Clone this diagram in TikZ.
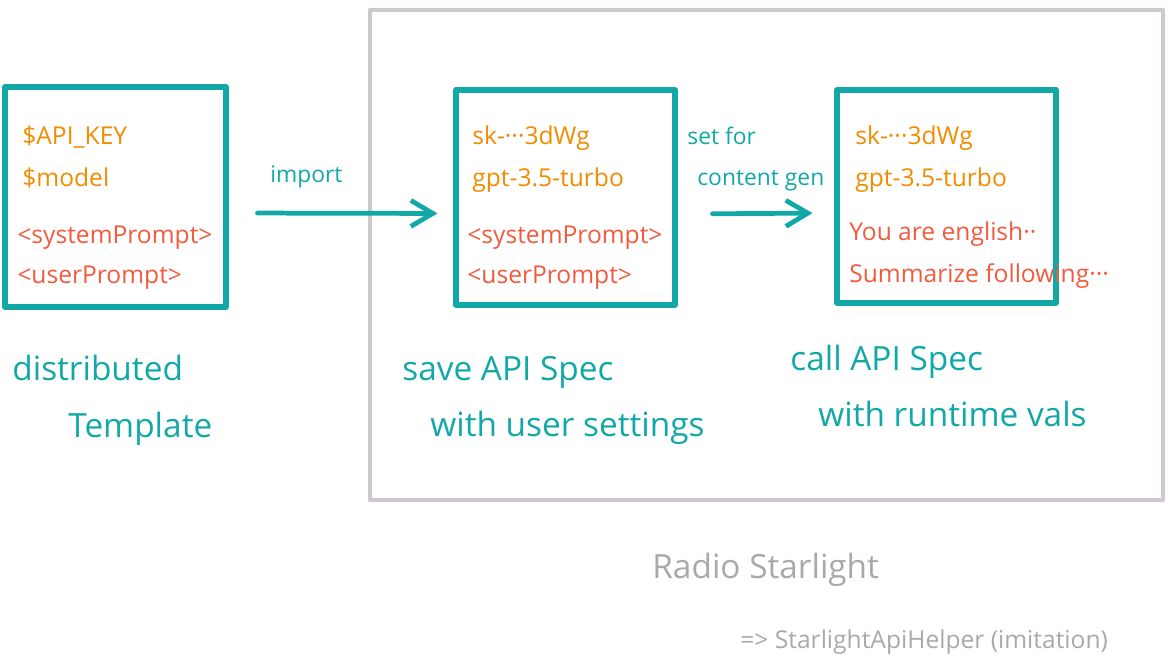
\documentclass[tikz,border=0pt]{standalone}
\usepackage{fontspec}
\setmainfont{Open Sans}
\usepackage{xcolor}
\usetikzlibrary{positioning,arrows.meta}

\definecolor{specteal}{HTML}{12A8A8}
\definecolor{valorange}{HTML}{F08C00}
\definecolor{promptred}{HTML}{F25A3E}
\definecolor{framegray}{HTML}{CEC8CF}
\definecolor{notegray}{HTML}{A9A9AB}

\begin{document}
\begin{tikzpicture}[x=0.02cm,y=-0.02cm,line cap=round,line join=round,
                    spec box/.style={draw=specteal,line width=2.9pt,inner sep=0pt},
                    val/.style={anchor=base west,inner sep=0pt,text=valorange,font=\fontsize{14}{16}\selectfont},
                    prompt/.style={anchor=base west,inner sep=0pt,text=promptred,font=\fontsize{14}{16}\selectfont},
                    caption/.style={anchor=base west,inner sep=0pt,text=specteal,font=\fontsize{19}{22}\selectfont},
                    small label/.style={anchor=base west,inner sep=0pt,text=specteal,font=\fontsize{13}{15}\selectfont},
                    flow/.style={draw=specteal,line width=2.7pt,-{Straight Barb[length=0.44cm,width=0.52cm]}}]

  \useasboundingbox (0,0) rectangle (1168,662);

  % app frame
  \draw[framegray,line width=2.7pt] (370,10) rectangle (1163,500);

  % the three specs
  \node[spec box,minimum width=4.42cm,minimum height=4.4cm] (tmpl) at (115.5,197) {};
  \node[spec box,minimum width=4.38cm,minimum height=4.3cm] (saved) at (565.5,197.5) {};
  \node[spec box,minimum width=4.38cm,minimum height=4.26cm] (call) at (946.5,196.5) {};

  \node[val] (tkey) at (22,145) {\$API\_KEY};
  \node[val] (tmodel) at (22,187) {\$model};
  \node[prompt] (tsys) at (17,243) {<systemPrompt>};
  \node[prompt] (tuser) at (17,283) {<userPrompt>};

  \node[val] (skey) at (472,145) {sk-···3dWg};
  \node[val] (smodel) at (472,187) {gpt-3.5-turbo};
  \node[prompt] (ssys) at (467,243) {<systemPrompt>};
  \node[prompt] (suser) at (467,283) {<userPrompt>};

  \node[val] (ckey) at (855,145) {sk-···3dWg};
  \node[val] (cmodel) at (855,187) {gpt-3.5-turbo};
  \node[prompt] (csys) at (849,240) {You are english··};
  \node[prompt] (cuser) at (849,282) {Summarize following···};

  % arrows
  \draw[flow,shorten <=0.58cm,shorten >=0.32cm] ([yshift=-0.32cm]tmpl.east) -- ([yshift=-0.32cm]saved.west);
  \draw[flow,shorten <=0.7cm,shorten >=0.44cm] ([yshift=-0.33cm]saved.east) -- ([yshift=-0.33cm]call.west);

  \node[small label] (imp) at (270,182) {import};
  \node[small label] (setfor) at (687,145) {set for};
  \node[small label] (gen) at (697,186) {content gen};

  % captions
  \node[caption] (tcap) at (12,380) {distributed};
  \node[caption] (tcap2) at (68,437) {Template};
  \node[caption] (scap) at (402,380) {save API Spec};
  \node[caption] (scap2) at (430,436) {with user settings};
  \node[caption] (ccap) at (790,370) {call API Spec};
  \node[caption] (ccap2) at (818,426) {with runtime vals};

  \node[caption,text=notegray] (app) at (652,578) {Radio Starlight};
  \node[small label,text=notegray,font=\fontsize{14}{16}\selectfont] (helper) at (740,648) {=> StarlightApiHelper (imitation)};

\end{tikzpicture}
\end{document}
